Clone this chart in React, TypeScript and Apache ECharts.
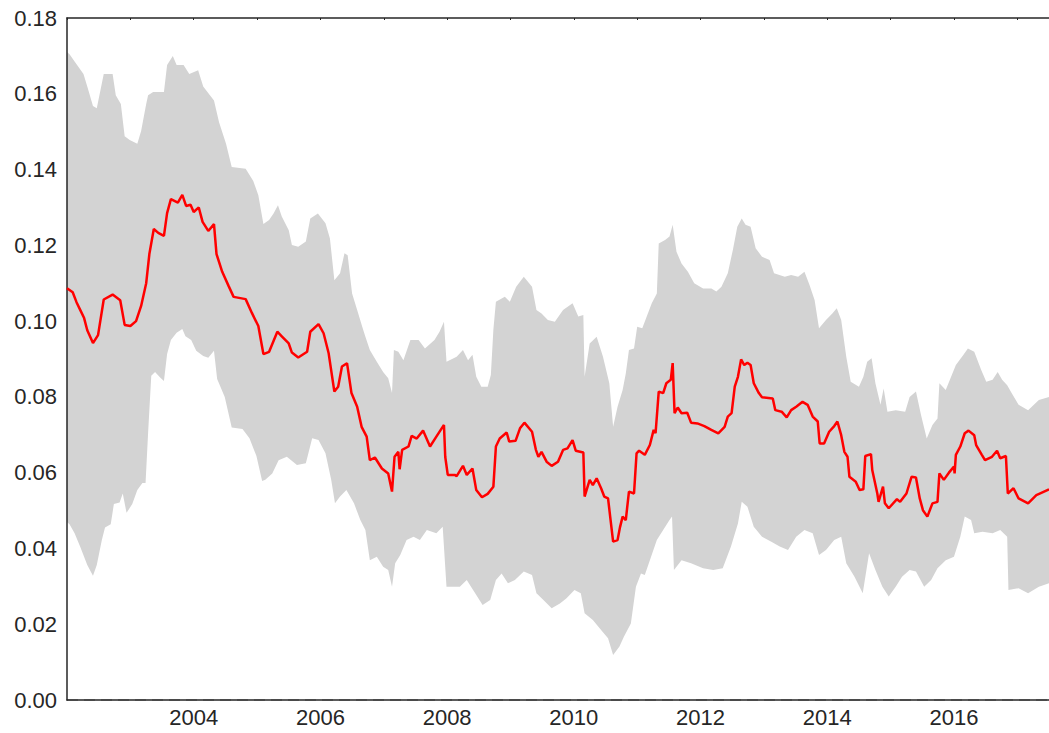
import React, { useEffect, useRef } from "react";
import * as echarts from "echarts";

const X_MIN = 2002;
const X_MAX = 2017.5;
const Y_TICKS = [0, 0.02, 0.04, 0.06, 0.08, 0.1, 0.12, 0.14, 0.16, 0.18];
const X_TICKS = [2004, 2006, 2008, 2010, 2012, 2014, 2016];

const midT = [2002.0, 2002.09, 2002.15, 2002.21, 2002.27, 2002.32, 2002.41, 2002.49, 2002.58, 2002.72, 2002.84, 2002.91, 2003.0, 2003.09, 2003.17, 2003.25, 2003.3, 2003.37, 2003.44, 2003.53, 2003.58, 2003.64, 2003.75, 2003.82, 2003.88, 2003.95, 2004.0, 2004.08, 2004.14, 2004.23, 2004.32, 2004.36, 2004.45, 2004.55, 2004.63, 2004.82, 2004.92, 2005.02, 2005.1, 2005.19, 2005.32, 2005.39, 2005.5, 2005.55, 2005.65, 2005.79, 2005.84, 2005.97, 2006.05, 2006.13, 2006.22, 2006.28, 2006.34, 2006.42, 2006.49, 2006.58, 2006.65, 2006.73, 2006.78, 2006.86, 2006.97, 2007.07, 2007.13, 2007.17, 2007.23, 2007.25, 2007.29, 2007.39, 2007.44, 2007.52, 2007.62, 2007.73, 2007.83, 2007.95, 2007.97, 2008.01, 2008.12, 2008.15, 2008.25, 2008.31, 2008.4, 2008.46, 2008.55, 2008.64, 2008.73, 2008.77, 2008.83, 2008.94, 2008.98, 2009.08, 2009.15, 2009.22, 2009.34, 2009.4, 2009.44, 2009.49, 2009.57, 2009.65, 2009.75, 2009.83, 2009.9, 2009.98, 2010.03, 2010.15, 2010.17, 2010.25, 2010.3, 2010.36, 2010.43, 2010.48, 2010.54, 2010.58, 2010.62, 2010.69, 2010.73, 2010.77, 2010.82, 2010.87, 2010.95, 2010.99, 2011.03, 2011.12, 2011.2, 2011.26, 2011.29, 2011.34, 2011.41, 2011.46, 2011.53, 2011.56, 2011.59, 2011.64, 2011.7, 2011.79, 2011.85, 2011.95, 2012.06, 2012.17, 2012.28, 2012.38, 2012.43, 2012.49, 2012.54, 2012.59, 2012.64, 2012.69, 2012.74, 2012.79, 2012.84, 2012.92, 2012.97, 2013.14, 2013.18, 2013.28, 2013.36, 2013.43, 2013.51, 2013.61, 2013.69, 2013.77, 2013.85, 2013.88, 2013.95, 2014.03, 2014.11, 2014.16, 2014.22, 2014.27, 2014.32, 2014.35, 2014.45, 2014.51, 2014.57, 2014.6, 2014.69, 2014.71, 2014.79, 2014.81, 2014.88, 2014.91, 2014.97, 2015.1, 2015.15, 2015.25, 2015.33, 2015.4, 2015.46, 2015.51, 2015.58, 2015.66, 2015.74, 2015.77, 2015.84, 2015.92, 2016.0, 2016.01, 2016.03, 2016.1, 2016.17, 2016.23, 2016.32, 2016.35, 2016.44, 2016.49, 2016.6, 2016.68, 2016.73, 2016.82, 2016.85, 2016.94, 2017.02, 2017.17, 2017.3, 2017.5];
const midV = [0.1087, 0.1076, 0.105, 0.1029, 0.1008, 0.0976, 0.0942, 0.0963, 0.1057, 0.107, 0.1055, 0.099, 0.0987, 0.1, 0.104, 0.11, 0.1177, 0.1243, 0.1233, 0.1225, 0.1285, 0.1322, 0.1313, 0.1333, 0.1304, 0.1307, 0.1288, 0.13, 0.1262, 0.1238, 0.1256, 0.1177, 0.113, 0.1093, 0.1064, 0.1058, 0.1021, 0.0987, 0.0913, 0.0919, 0.0972, 0.096, 0.0941, 0.0917, 0.0904, 0.0919, 0.0972, 0.0992, 0.0968, 0.0915, 0.0814, 0.0827, 0.088, 0.0889, 0.081, 0.0774, 0.0721, 0.0695, 0.0633, 0.064, 0.0611, 0.0598, 0.055, 0.0642, 0.0655, 0.0609, 0.066, 0.0669, 0.0697, 0.069, 0.0711, 0.0669, 0.0695, 0.0726, 0.0642, 0.0594, 0.0594, 0.0591, 0.0618, 0.0594, 0.0611, 0.0554, 0.0535, 0.0544, 0.0563, 0.0669, 0.069, 0.0706, 0.0682, 0.0684, 0.0717, 0.0732, 0.0708, 0.0661, 0.0642, 0.0655, 0.0629, 0.0618, 0.0629, 0.066, 0.0664, 0.0686, 0.0658, 0.0653, 0.0537, 0.0581, 0.0567, 0.0585, 0.0559, 0.0537, 0.0532, 0.0475, 0.0418, 0.0422, 0.0457, 0.0484, 0.0475, 0.055, 0.0545, 0.0651, 0.0658, 0.0647, 0.0673, 0.0713, 0.0704, 0.0814, 0.081, 0.0836, 0.0845, 0.0889, 0.0757, 0.0772, 0.0757, 0.0758, 0.0732, 0.073, 0.0723, 0.0713, 0.0704, 0.0721, 0.0748, 0.0757, 0.0827, 0.0853, 0.0899, 0.0884, 0.089, 0.0884, 0.0836, 0.081, 0.0799, 0.0796, 0.0765, 0.0761, 0.0746, 0.0765, 0.0774, 0.0787, 0.0779, 0.0748, 0.0735, 0.0677, 0.0677, 0.0708, 0.0723, 0.0735, 0.0699, 0.0655, 0.0642, 0.0589, 0.0576, 0.0554, 0.0556, 0.0644, 0.0649, 0.0607, 0.0545, 0.0523, 0.0563, 0.0519, 0.0506, 0.053, 0.0523, 0.0545, 0.0589, 0.0587, 0.0532, 0.0501, 0.0484, 0.0519, 0.0523, 0.0598, 0.0581, 0.06, 0.0616, 0.0598, 0.0647, 0.0669, 0.0704, 0.0711, 0.0699, 0.0673, 0.0647, 0.0633, 0.0642, 0.0658, 0.0638, 0.0644, 0.0545, 0.0559, 0.0532, 0.0519, 0.0541, 0.0556];

const upperT = [2002.0, 2002.04, 2002.12, 2002.26, 2002.32, 2002.41, 2002.47, 2002.58, 2002.72, 2002.77, 2002.85, 2002.91, 2002.99, 2003.11, 2003.17, 2003.25, 2003.28, 2003.36, 2003.53, 2003.58, 2003.67, 2003.73, 2003.84, 2003.93, 2004.07, 2004.15, 2004.32, 2004.4, 2004.51, 2004.6, 2004.82, 2004.94, 2005.02, 2005.1, 2005.19, 2005.26, 2005.33, 2005.39, 2005.5, 2005.55, 2005.65, 2005.77, 2005.84, 2005.96, 2006.08, 2006.15, 2006.22, 2006.31, 2006.38, 2006.43, 2006.5, 2006.58, 2006.66, 2006.71, 2006.78, 2006.89, 2006.99, 2007.07, 2007.13, 2007.16, 2007.23, 2007.31, 2007.42, 2007.55, 2007.65, 2007.8, 2007.88, 2007.95, 2007.99, 2008.15, 2008.25, 2008.33, 2008.4, 2008.46, 2008.54, 2008.64, 2008.69, 2008.73, 2008.77, 2008.91, 2008.99, 2009.09, 2009.21, 2009.34, 2009.41, 2009.49, 2009.59, 2009.7, 2009.83, 2009.98, 2010.07, 2010.15, 2010.17, 2010.25, 2010.36, 2010.46, 2010.56, 2010.62, 2010.69, 2010.77, 2010.82, 2010.87, 2010.95, 2011.0, 2011.08, 2011.23, 2011.31, 2011.34, 2011.44, 2011.51, 2011.56, 2011.62, 2011.7, 2011.8, 2011.9, 2012.04, 2012.17, 2012.25, 2012.33, 2012.43, 2012.51, 2012.58, 2012.65, 2012.71, 2012.79, 2012.87, 2012.97, 2013.09, 2013.16, 2013.33, 2013.43, 2013.54, 2013.64, 2013.72, 2013.8, 2013.87, 2013.98, 2014.08, 2014.15, 2014.22, 2014.3, 2014.37, 2014.5, 2014.57, 2014.63, 2014.7, 2014.76, 2014.84, 2014.89, 2014.95, 2015.08, 2015.23, 2015.3, 2015.4, 2015.48, 2015.57, 2015.66, 2015.74, 2015.77, 2015.87, 2016.03, 2016.15, 2016.22, 2016.32, 2016.43, 2016.51, 2016.61, 2016.69, 2016.76, 2016.84, 2016.91, 2017.02, 2017.17, 2017.34, 2017.5];
const upperV = [0.171, 0.1704, 0.1685, 0.1652, 0.1619, 0.1568, 0.1562, 0.1652, 0.1652, 0.1596, 0.1573, 0.1488, 0.1478, 0.1468, 0.1502, 0.1573, 0.1596, 0.1605, 0.1605, 0.1676, 0.17, 0.1676, 0.1676, 0.1652, 0.1662, 0.1619, 0.1582, 0.1525, 0.1468, 0.1407, 0.1402, 0.137, 0.1332, 0.1256, 0.1267, 0.1284, 0.1306, 0.1276, 0.124, 0.1201, 0.1196, 0.121, 0.1271, 0.1284, 0.1258, 0.1218, 0.1108, 0.1126, 0.1179, 0.1174, 0.1073, 0.1029, 0.0985, 0.0959, 0.0924, 0.0893, 0.0866, 0.0849, 0.081, 0.0924, 0.0919, 0.0897, 0.095, 0.095, 0.0928, 0.095, 0.0972, 0.0998, 0.0893, 0.0906, 0.0924, 0.0897, 0.0911, 0.0853, 0.0827, 0.0827, 0.0858, 0.0977, 0.1051, 0.1064, 0.1051, 0.1091, 0.1117, 0.1091, 0.1029, 0.102, 0.1003, 0.0998, 0.1029, 0.1047, 0.1012, 0.1016, 0.0853, 0.0941, 0.0959, 0.0906, 0.0836, 0.0721, 0.0774, 0.0818, 0.0862, 0.0924, 0.0928, 0.0985, 0.0981, 0.1047, 0.1073, 0.1205, 0.1214, 0.1223, 0.1254, 0.1183, 0.1152, 0.113, 0.11, 0.1086, 0.1086, 0.1078, 0.1091, 0.1126, 0.1188, 0.1249, 0.1271, 0.1254, 0.1249, 0.1192, 0.117, 0.1161, 0.1126, 0.1117, 0.1122, 0.1117, 0.113, 0.1095, 0.1056, 0.0981, 0.1003, 0.102, 0.1034, 0.1003, 0.0906, 0.084, 0.0827, 0.0853, 0.0893, 0.0902, 0.0836, 0.0779, 0.0822, 0.0761, 0.0765, 0.0761, 0.08, 0.0814, 0.0752, 0.069, 0.0726, 0.0743, 0.0836, 0.0818, 0.0884, 0.0911, 0.0928, 0.0919, 0.0871, 0.084, 0.0845, 0.0866, 0.0845, 0.0831, 0.081, 0.0779, 0.0765, 0.0792, 0.08];

const lowerT = [2002.0, 2002.04, 2002.12, 2002.21, 2002.32, 2002.41, 2002.47, 2002.55, 2002.6, 2002.69, 2002.74, 2002.83, 2002.88, 2002.94, 2003.03, 2003.11, 2003.19, 2003.24, 2003.28, 2003.33, 2003.39, 2003.47, 2003.53, 2003.58, 2003.64, 2003.73, 2003.82, 2003.87, 2003.96, 2004.04, 2004.15, 2004.23, 2004.32, 2004.37, 2004.49, 2004.6, 2004.77, 2004.88, 2004.99, 2005.08, 2005.13, 2005.24, 2005.34, 2005.47, 2005.63, 2005.77, 2005.87, 2005.97, 2006.08, 2006.17, 2006.23, 2006.31, 2006.41, 2006.53, 2006.63, 2006.71, 2006.78, 2006.89, 2006.99, 2007.07, 2007.13, 2007.18, 2007.26, 2007.36, 2007.47, 2007.57, 2007.68, 2007.83, 2007.93, 2007.99, 2008.12, 2008.2, 2008.31, 2008.41, 2008.56, 2008.68, 2008.77, 2008.86, 2008.96, 2009.07, 2009.21, 2009.34, 2009.41, 2009.52, 2009.65, 2009.78, 2009.88, 2010.01, 2010.11, 2010.17, 2010.3, 2010.43, 2010.54, 2010.62, 2010.72, 2010.79, 2010.9, 2010.98, 2011.06, 2011.12, 2011.2, 2011.31, 2011.41, 2011.51, 2011.55, 2011.58, 2011.7, 2011.85, 2012.04, 2012.2, 2012.35, 2012.48, 2012.59, 2012.65, 2012.74, 2012.84, 2012.97, 2013.11, 2013.25, 2013.38, 2013.51, 2013.64, 2013.77, 2013.87, 2013.98, 2014.11, 2014.22, 2014.3, 2014.43, 2014.56, 2014.66, 2014.76, 2014.87, 2014.97, 2015.08, 2015.18, 2015.3, 2015.4, 2015.53, 2015.64, 2015.74, 2015.87, 2016.0, 2016.1, 2016.17, 2016.27, 2016.32, 2016.45, 2016.61, 2016.73, 2016.84, 2016.86, 2017.02, 2017.17, 2017.34, 2017.5];
const lowerV = [0.047, 0.0464, 0.044, 0.0404, 0.0356, 0.0328, 0.0356, 0.0422, 0.0455, 0.0464, 0.0517, 0.0521, 0.0545, 0.0494, 0.0517, 0.0554, 0.0573, 0.0573, 0.0705, 0.0856, 0.0866, 0.0851, 0.0842, 0.0913, 0.095, 0.0969, 0.0979, 0.096, 0.095, 0.0922, 0.0908, 0.0903, 0.0922, 0.0847, 0.08, 0.0719, 0.0715, 0.0691, 0.0644, 0.0578, 0.0581, 0.0598, 0.0633, 0.0642, 0.062, 0.0625, 0.0691, 0.0686, 0.0651, 0.0581, 0.0519, 0.0537, 0.0554, 0.0519, 0.0475, 0.0449, 0.0369, 0.0378, 0.0352, 0.0343, 0.0299, 0.0361, 0.0383, 0.0422, 0.0431, 0.0422, 0.0449, 0.044, 0.0457, 0.0299, 0.0299, 0.0299, 0.0317, 0.029, 0.0251, 0.0264, 0.0317, 0.0334, 0.0308, 0.0317, 0.0339, 0.033, 0.0282, 0.0264, 0.0242, 0.0255, 0.0268, 0.029, 0.0282, 0.0229, 0.0211, 0.0185, 0.0163, 0.0119, 0.0141, 0.0167, 0.0202, 0.0299, 0.0334, 0.033, 0.0369, 0.0422, 0.0449, 0.0475, 0.0484, 0.0343, 0.0369, 0.0361, 0.0348, 0.0343, 0.0348, 0.0405, 0.0466, 0.0523, 0.051, 0.0457, 0.0431, 0.0418, 0.0405, 0.0396, 0.0431, 0.0449, 0.044, 0.0383, 0.0396, 0.0422, 0.0431, 0.0361, 0.0325, 0.0282, 0.0387, 0.0343, 0.0299, 0.0273, 0.0299, 0.0325, 0.0343, 0.0339, 0.0299, 0.0317, 0.0348, 0.0369, 0.0378, 0.0431, 0.0484, 0.0475, 0.044, 0.0444, 0.044, 0.0449, 0.0431, 0.029, 0.0295, 0.0282, 0.0299, 0.0308];

const zip = (t: number[], v: number[]) => t.map((x, i) => [x, v[i]]);

const FONT = "'Liberation Sans', Arial, sans-serif";
const TEXT = "#262626";

export default function App() {
  const ref = useRef<HTMLDivElement>(null);
  useEffect(() => {
    if (!ref.current) return;
    const chart = echarts.init(ref.current, undefined, { renderer: "svg" });
    chart.setOption({
      animation: false,
      backgroundColor: "#ffffff",
      grid: { left: 67, right: 0, top: 18, bottom: 33, containLabel: false },
      xAxis: [
        {
          type: "value",
          min: X_MIN,
          max: X_MAX,
          interval: 2,
          z: 10,
          axisLine: { show: true, onZero: false, lineStyle: { color: TEXT, width: 1.5 } },
          axisTick: { show: false },
          splitLine: { show: false },
          axisLabel: {
            color: TEXT,
            fontSize: 22,
            fontFamily: FONT,
            margin: 6,
            showMaxLabel: false,
            formatter: (v: number) => (X_TICKS.indexOf(v) >= 0 ? String(v) : ""),
          },
        },
        {
          type: "value",
          position: "top",
          min: X_MIN,
          max: X_MAX,
          interval: 1,
          z: 10,
          axisLine: { show: true, onZero: false, lineStyle: { color: TEXT, width: 1.5 } },
          axisTick: { show: true, inside: true, length: 2, lineStyle: { color: TEXT, width: 1 } },
          splitLine: { show: false },
          axisLabel: { show: false },
        },
      ],
      yAxis: {
        type: "value",
        min: 0,
        max: 0.18,
        interval: 0.02,
        z: 10,
        axisLine: { show: true, lineStyle: { color: TEXT, width: 1.5 } },
        axisTick: { show: false },
        splitLine: { show: false },
        axisLabel: {
          color: TEXT,
          fontSize: 22,
          fontFamily: FONT,
          margin: 10,
          formatter: (v: number) => {
            const k = Y_TICKS.findIndex((t) => Math.abs(t - v) < 1e-9);
            return k >= 0 ? Y_TICKS[k].toFixed(2) : "";
          },
        },
      },
      series: [
        {
          name: "upper",
          type: "line",
          data: zip(upperT, upperV),
          symbol: "none",
          z: 1,
          lineStyle: { width: 0, color: "#d3d3d3" },
          areaStyle: { color: "#d3d3d3", opacity: 1 },
          silent: true,
        },
        {
          name: "lower",
          type: "line",
          data: zip(lowerT, lowerV),
          symbol: "none",
          z: 2,
          lineStyle: { width: 0, color: "#ffffff" },
          areaStyle: { color: "#ffffff", opacity: 1 },
          silent: true,
        },
        {
          name: "mid",
          type: "line",
          data: zip(midT, midV),
          symbol: "none",
          z: 12,
          lineStyle: { width: 2.5, color: "#ff0000" },
          markLine: {
            silent: true,
            symbol: "none",
            label: { show: false },
            lineStyle: { type: [11, 6], color: "#a0a0a0", width: 1.5 },
            data: [{ yAxis: 0.0002 }],
          },
        },
      ],
    });
    return () => chart.dispose();
  }, []);
  return (
    <div
      ref={ref}
      style={{ position: "absolute", left: 0, top: 0, width: 1049, height: 733 }}
    />
  );
}
